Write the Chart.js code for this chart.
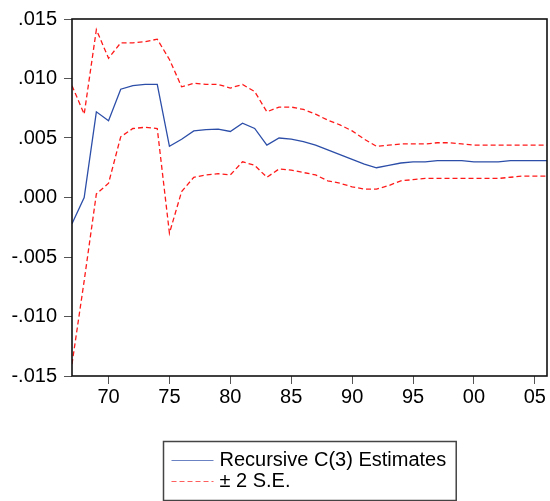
<!DOCTYPE html>
<html>
<head>
<meta charset="utf-8">
<script src="https://cdn.jsdelivr.net/npm/chart.js@4"></script>
<style>
  html, body { margin: 0; padding: 0; background: #fff; }
  canvas { display: block; }
</style>
</head>
<body>
<canvas id="recursive" width="550" height="501"></canvas>
<script>
// annual sample 1967-2006
const firstYear = 1967;
const lastYear = 2006;
const years = Array.from({length: lastYear - firstYear + 1}, (_, i) => firstYear + i);

const estimate = [
  -0.0022, 0.0000, 0.0072, 0.00645, 0.0091, 0.0094, 0.0095, 0.0095, 0.0043, 0.0049,
  0.0056, 0.0057, 0.00575, 0.00555, 0.00625, 0.0058, 0.0044, 0.0050, 0.0049, 0.0047,
  0.0044, 0.0040, 0.0036, 0.0032, 0.0028, 0.0025, 0.0027, 0.0029, 0.0030, 0.0030,
  0.0031, 0.0031, 0.0031, 0.0030, 0.0030, 0.0030, 0.0031, 0.0031, 0.0031, 0.0031
];
const upperBand = [
  0.0094, 0.0070, 0.0141, 0.0117, 0.0130, 0.0130, 0.0131, 0.0133, 0.0116, 0.0093,
  0.0096, 0.0095, 0.0095, 0.0092, 0.0095, 0.0089, 0.0072, 0.0076, 0.0076, 0.0074,
  0.0070, 0.0065, 0.0061, 0.0056, 0.0049, 0.0043, 0.0044, 0.0045, 0.0045, 0.0045,
  0.0046, 0.0046, 0.0045, 0.0044, 0.0044, 0.0044, 0.0044, 0.0044, 0.0044, 0.0044
];
const lowerBand = [
  -0.0140, -0.0070, 0.0003, 0.0012, 0.0051, 0.0058, 0.0059, 0.0058, -0.0030, 0.0005,
  0.0017, 0.0019, 0.0020, 0.0019, 0.0030, 0.0027, 0.0017, 0.0024, 0.0023, 0.0021,
  0.0019, 0.0014, 0.0012, 0.0009, 0.0007, 0.0007, 0.0010, 0.0014, 0.0015, 0.0016,
  0.0016, 0.0016, 0.0016, 0.0016, 0.0016, 0.0016, 0.0017, 0.0018, 0.0018, 0.0018
];

const xTickValues = [1970, 1975, 1980, 1985, 1990, 1995, 2000, 2005];
const xTickLabels = ['70', '75', '80', '85', '90', '95', '00', '05'];
const yTickValues = [-0.015, -0.010, -0.005, 0, 0.005, 0.010, 0.015];
const yTickLabels = ['-.015', '-.010', '-.005', '.000', '.005', '.010', '.015'];

const blue = '#2c4ea8';
const red = '#ff1a1a';

function toPoints(values) {
  return values.map((v, i) => ({x: years[i], y: v}));
}

// frame around the plot area
const frame = {
  id: 'frame',
  afterDraw(chart) {
    const a = chart.chartArea;
    const ctx = chart.ctx;
    ctx.save();
    ctx.strokeStyle = '#111';
    ctx.lineWidth = 1.6;
    ctx.strokeRect(a.left, a.top, a.right - a.left, a.bottom - a.top);
    ctx.restore();
  }
};

// boxed legend with one entry per row, under the x axis
const boxLegend = {
  id: 'boxLegend',
  afterDraw(chart) {
    const a = chart.chartArea;
    const ctx = chart.ctx;
    const items = chart.data.datasets.slice(0, 2);
    ctx.save();
    ctx.font = '20px "Liberation Sans", Arial, sans-serif';
    const textW = Math.max.apply(null, items.map(d => ctx.measureText(d.label).width));
    const sample = 42, gap = 6, padL = 8, padR = 10, rowH = 21, boxH = 59;
    const boxW = padL + sample + gap + textW + padR;
    const left = Math.round((a.left + a.right) / 2 - boxW / 2) + 0.5;
    const top = Math.round(a.bottom + 65) + 0.5;

    ctx.strokeStyle = '#444';
    ctx.lineWidth = 1.5;
    ctx.strokeRect(left, top, boxW, boxH);

    items.forEach(function(d, i) {
      const y = Math.round(top + 18 + i * rowH) + 0.5;
      ctx.beginPath();
      ctx.strokeStyle = d.borderColor;
      ctx.globalAlpha = 0.7;
      ctx.lineWidth = 1.2;
      ctx.setLineDash(d.borderDash || []);
      ctx.moveTo(left + padL, y);
      ctx.lineTo(left + padL + sample, y);
      ctx.stroke();
      ctx.setLineDash([]);
      ctx.globalAlpha = 1;
      ctx.fillStyle = '#000';
      ctx.textBaseline = 'middle';
      ctx.textAlign = 'left';
      ctx.fillText(d.label, left + padL + sample + gap, y);
    });
    ctx.restore();
  }
};

Chart.defaults.font.family = '"Liberation Sans", Arial, sans-serif';
Chart.defaults.font.size = 20;
Chart.defaults.color = '#000';

new Chart(document.getElementById('recursive').getContext('2d'), {
  type: 'line',
  data: {
    datasets: [
      {
        label: 'Recursive C(3) Estimates',
        data: toPoints(estimate),
        borderColor: blue,
        borderWidth: 1.3,
        pointRadius: 0,
        tension: 0
      },
      {
        label: '± 2 S.E.',
        data: toPoints(upperBand),
        borderColor: red,
        borderWidth: 1.3,
        borderDash: [5, 3],
        pointRadius: 0,
        tension: 0
      },
      {
        label: '',
        data: toPoints(lowerBand),
        borderColor: red,
        borderWidth: 1.3,
        borderDash: [5, 3],
        pointRadius: 0,
        tension: 0
      }
    ]
  },
  options: {
    responsive: false,
    animation: false,
    layout: {
      padding: {top: 19, right: 3, bottom: 85, left: 0}
    },
    plugins: {
      legend: {display: false},
      tooltip: {enabled: false}
    },
    scales: {
      x: {
        type: 'linear',
        min: firstYear,
        max: lastYear,
        afterBuildTicks: function(scale) {
          scale.ticks = xTickValues.map(v => ({value: v}));
        },
        afterFit: function(scale) {
          scale.height = 40;
        },
        ticks: {
          padding: 1,
          maxRotation: 0,
          autoSkip: false,
          callback: function(value, index) {
            return xTickLabels[index];
          }
        },
        grid: {
          drawOnChartArea: false,
          drawTicks: true,
          tickLength: 8,
          color: '#555'
        },
        border: {display: false}
      },
      y: {
        min: yTickValues[0],
        max: yTickValues[yTickValues.length - 1],
        afterBuildTicks: function(scale) {
          scale.ticks = yTickValues.map(v => ({value: v}));
        },
        afterFit: function(scale) {
          scale.width = 72;
        },
        ticks: {
          padding: 7,
          autoSkip: false,
          callback: function(value, index) {
            return yTickLabels[index];
          }
        },
        grid: {
          drawOnChartArea: false,
          drawTicks: true,
          tickLength: 8,
          color: '#555'
        },
        border: {display: false}
      }
    }
  },
  plugins: [frame, boxLegend]
});
</script>
</body>
</html>
